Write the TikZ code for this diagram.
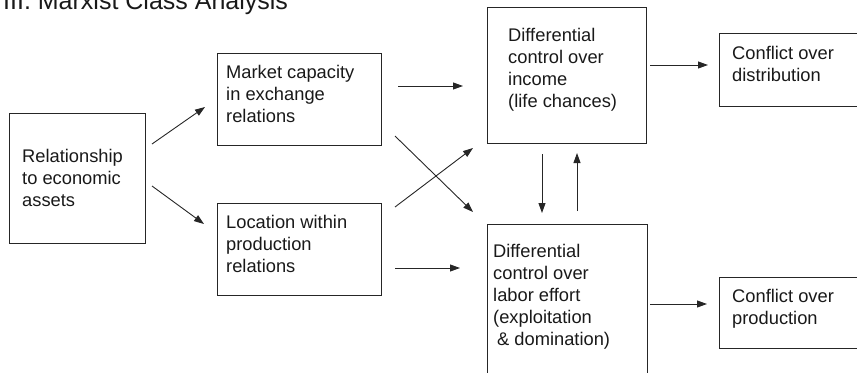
\documentclass[tikz,border=0pt]{standalone}
\usepackage{fontspec}
\setmainfont{Liberation Sans}
\usetikzlibrary{arrows.meta}
\begin{document}
\begin{tikzpicture}[x=1bp,y=-1bp,
 box/.style={draw=black!85, line width=1.1bp, anchor=north west, inner sep=0pt},
 txt/.style={anchor=north west, inner sep=0pt, align=left, font=\fontsize{18.3bp}{22bp}\selectfont, text=black!90},
 arr/.style={draw=black!85, line width=0.9bp, -{Triangle[length=10bp,width=7bp]}}]
\useasboundingbox (0,0) rectangle (857,372);
\clip (0,0) rectangle (857,372);
% title
\node[anchor=base west, inner sep=0pt, font=\fontsize{25bp}{29bp}\selectfont, text=black!90] (title) at (3,9.5) {III. Marxist Class Analysis};
% boxes
\node[box, minimum width=136bp, minimum height=130bp] (rel) at (9,113) {};
\node[box, minimum width=164bp, minimum height=92bp] (mkt) at (217,53) {};
\node[box, minimum width=164bp, minimum height=92bp] (loc) at (217,203) {};
\node[box, minimum width=159bp, minimum height=136bp] (inc) at (487,7) {};
\node[box, minimum width=160bp, minimum height=160bp] (lab) at (487,224) {};
\node[box, minimum width=160bp, minimum height=73bp] (dist) at (719,33) {};
\node[box, minimum width=160bp, minimum height=71bp] (prod) at (719,277) {};
% texts
\node[txt] (reltxt) at (22,149.5) {Relationship\\to economic\\assets};
\node[txt] (mkttxt) at (226,65.5) {Market capacity\\in exchange\\relations};
\node[txt] (loctxt) at (226,215.5) {Location within\\production\\relations};
\node[txt] (inctxt) at (508,28.5) {Differential\\control over\\income\\(life chances)};
\node[txt] (labtxt) at (493,244.5) {Differential\\control over\\labor effort\\(exploitation\\\hspace{4bp}\& domination)};
\node[txt] (disttxt) at (732,46.5) {Conflict over\\distribution};
\node[txt] (prodtxt) at (732,289.5) {Conflict over\\production};
% arrow end points
\coordinate (a1s) at (152,144); \coordinate (a1e) at (205,107);
\coordinate (a2s) at (152,186); \coordinate (a2e) at (204,224);
\coordinate (a3s) at (398,86);  \coordinate (a3e) at (463,86);
\coordinate (a4s) at (395,136); \coordinate (a4e) at (473,212);
\coordinate (a5s) at (395,207); \coordinate (a5e) at (473,148);
\coordinate (a6s) at (395,268); \coordinate (a6e) at (460,268);
\coordinate (a7s) at (650,65);  \coordinate (a7e) at (708,65);
\coordinate (a8s) at (650,304); \coordinate (a8e) at (707,304);
\coordinate (a9s) at (542,154); \coordinate (a9e) at (542,213);
\coordinate (a10s) at (577,211); \coordinate (a10e) at (577,153);
\draw[arr] (a1s) -- (a1e);
\draw[arr] (a2s) -- (a2e);
\draw[arr] (a3s) -- (a3e);
\draw[arr] (a4s) -- (a4e);
\draw[arr] (a5s) -- (a5e);
\draw[arr] (a6s) -- (a6e);
\draw[arr] (a7s) -- (a7e);
\draw[arr] (a8s) -- (a8e);
\draw[arr] (a9s) -- (a9e);
\draw[arr] (a10s) -- (a10e);
\end{tikzpicture}
\end{document}
